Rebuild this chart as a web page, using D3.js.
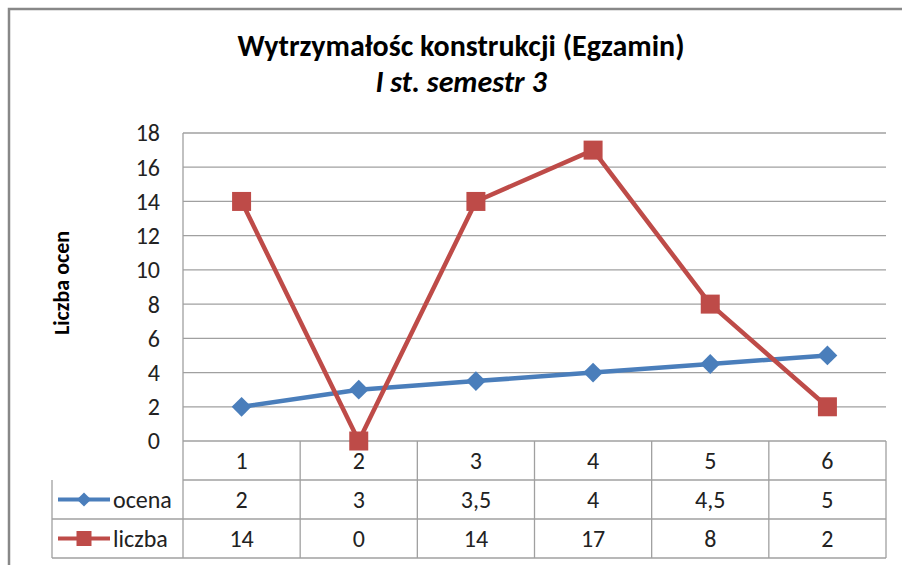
<!DOCTYPE html>
<html>
<head>
<meta charset="utf-8">
<script src="https://cdn.jsdelivr.net/npm/d3@7"></script>
<style>
  body { margin: 0; background: #fff; }
  svg { display: block; font-family: Carlito, "Open Sans", "Liberation Sans", sans-serif; }
</style>
</head>
<body>
<svg id="chart" width="902" height="565"></svg>
<script>
const categories = ["1", "2", "3", "4", "5", "6"];
const ocena = [2, 3, 3.5, 4, 4.5, 5];
const liczba = [14, 0, 14, 17, 8, 2];
const ocenaLabels = ["2", "3", "3,5", "4", "4,5", "5"];
const yTicks = [0, 2, 4, 6, 8, 10, 12, 14, 16, 18];

const series = [
  { name: "ocena", values: ocena, labels: ocenaLabels, color: "#4a7ebb", marker: "diamond" },
  { name: "liczba", values: liczba, labels: liczba.map(String), color: "#be4b48", marker: "square" }
];

const svg = d3.select("#chart");
const plot = { left: 183, right: 886, top: 133, bottom: 441 };
const rowH = 39;
const legendLeft = 52;

// outer frame
svg.append("path")
  .attr("d", "M9,570 L9,9 L910,9")
  .attr("fill", "none")
  .attr("stroke", "#888")
  .attr("stroke-width", 2.5);

svg.append("text")
  .attr("x", 461).attr("y", 56)
  .attr("text-anchor", "middle")
  .attr("font-size", 30).attr("font-weight", "bold")
  .text("Wytrzymałośc konstrukcji (Egzamin)");
svg.append("text")
  .attr("x", 461).attr("y", 92)
  .attr("text-anchor", "middle")
  .attr("font-size", 30).attr("font-weight", "bold").attr("font-style", "italic")
  .text("I st. semestr 3");

const x = d3.scaleBand().domain(categories).range([plot.left, plot.right]);
const y = d3.scaleLinear().domain([0, 18]).range([plot.bottom, plot.top]);

// gridlines
svg.append("g").selectAll("line")
  .data(yTicks)
  .enter().append("line")
  .attr("x1", plot.left).attr("x2", plot.right)
  .attr("y1", d => y(d)).attr("y2", d => y(d))
  .attr("stroke", "#a0a0a0").attr("stroke-width", 1.3);

svg.append("line")
  .attr("x1", plot.left).attr("x2", plot.left)
  .attr("y1", plot.top).attr("y2", plot.bottom + 3 * rowH)
  .attr("stroke", "#a0a0a0").attr("stroke-width", 1.3);

// y tick labels
svg.append("g").selectAll("text")
  .data(yTicks)
  .enter().append("text")
  .attr("x", 160).attr("y", d => y(d))
  .attr("dy", "0.35em")
  .attr("text-anchor", "end")
  .attr("font-size", 24).attr("fill", "#222")
  .text(d => d);

svg.append("text")
  .attr("transform", "translate(69,283) rotate(-90)")
  .attr("text-anchor", "middle")
  .attr("font-size", 22).attr("font-weight", "bold")
  .text("Liczba ocen");

// data table
const table = svg.append("g").attr("stroke", "#a0a0a0").attr("stroke-width", 1.3);
[1, 2, 3].forEach(i => {
  table.append("line")
    .attr("x1", i === 1 ? plot.left : legendLeft).attr("x2", plot.right)
    .attr("y1", plot.bottom + i * rowH).attr("y2", plot.bottom + i * rowH);
});
table.append("line")
  .attr("x1", legendLeft).attr("x2", legendLeft)
  .attr("y1", plot.bottom + rowH).attr("y2", plot.bottom + 3 * rowH);
table.selectAll("line.col")
  .data(categories)
  .enter().append("line")
  .attr("class", "col")
  .attr("x1", d => x(d) + x.bandwidth()).attr("x2", d => x(d) + x.bandwidth())
  .attr("y1", plot.bottom).attr("y2", plot.bottom + 3 * rowH);

svg.append("g").selectAll("text")
  .data(categories)
  .enter().append("text")
  .attr("x", d => x(d) + x.bandwidth() / 2)
  .attr("y", plot.bottom + rowH / 2)
  .attr("dy", "0.35em").attr("text-anchor", "middle")
  .attr("font-size", 24).attr("fill", "#222")
  .text(d => d);

// diamond = square turned 45 degrees
const markerPath = side => d3.symbol().type(d3.symbolSquare).size(side * side)();
const markerRot = type => type === "diamond" ? " rotate(45)" : "";

series.forEach((s, i) => {
  const rowY = plot.bottom + (i + 1) * rowH + rowH / 2;
  svg.append("g").selectAll("text")
    .data(s.labels)
    .enter().append("text")
    .attr("x", (d, j) => x(categories[j]) + x.bandwidth() / 2)
    .attr("y", rowY)
    .attr("dy", "0.35em").attr("text-anchor", "middle")
    .attr("font-size", 24).attr("fill", "#222")
    .text(d => d);

  // legend key
  svg.append("line")
    .attr("x1", 58).attr("x2", 110)
    .attr("y1", rowY).attr("y2", rowY)
    .attr("stroke", s.color).attr("stroke-width", 4);
  svg.append("path")
    .attr("transform", "translate(84," + rowY + ")" + markerRot(s.marker))
    .attr("d", markerPath(s.marker === "diamond" ? 10 : 15))
    .attr("fill", s.color);
  svg.append("text")
    .attr("x", 113).attr("y", rowY)
    .attr("dy", "0.35em")
    .attr("font-size", 24).attr("fill", "#222")
    .text(s.name);
});

// lines and markers
series.forEach(s => {
  const pts = s.values.map((v, j) => [x(categories[j]) + x.bandwidth() / 2, y(v)]);
  svg.append("path")
    .attr("d", d3.line()(pts))
    .attr("fill", "none")
    .attr("stroke", s.color)
    .attr("stroke-width", 4.5)
    .attr("stroke-linejoin", "round");
  svg.append("g").selectAll("path")
    .data(pts)
    .enter().append("path")
    .attr("transform", d => "translate(" + d[0] + "," + d[1] + ")" + markerRot(s.marker))
    .attr("d", markerPath(s.marker === "diamond" ? 14 : 19))
    .attr("fill", s.color);
});
</script>
</body>
</html>
